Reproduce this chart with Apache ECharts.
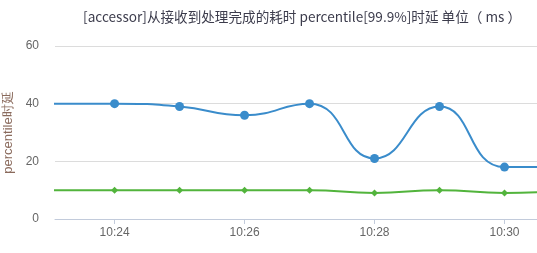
<!DOCTYPE html>
<html><head><meta charset="utf-8">
<script src="https://cdn.jsdelivr.net/npm/echarts@6/dist/echarts.min.js"></script>
<style>html,body{margin:0;padding:0;background:#fff}#c{width:537px;height:253px}</style>
</head><body><div id="c"></div>
<script>
var times = ['10:23','10:24','10:25','10:26','10:27','10:28','10:29','10:30','10:31'];
var blueValues = [40, 40, 39, 36, 40, 21, 39, 18, 18];
var greenValues = [10, 10, 10, 10, 10, 9, 10, 9, 10];
var titleText = '[accessor]从接收到处理完成的耗时 percentile[99.9%]时延 单位（ ms ）';
var yName = 'percentile时延';

function ts(hm, sec) {
  var p = hm.split(':');
  return new Date(2024, 0, 1, +p[0], +p[1], sec || 0).getTime();
}
var blueData = times.map(function (t, i) { return [ts(t), blueValues[i]]; });
var greenData = times.map(function (t, i) { return [ts(t), greenValues[i]]; });

var chart = echarts.init(document.getElementById('c'));
chart.setOption({
  animation: false,
  title: {
    text: titleText, right: 11, top: 5,
    textStyle: { fontSize: 13.6, fontWeight: 'normal', color: '#3c3c4c', fontFamily: 'Noto Sans CJK SC' }
  },
  grid: { left: 55, right: 0, top: 46, bottom: 34, containLabel: false, outerBoundsMode: 'none' },
  xAxis: {
    type: 'time',
    min: ts('10:23', 5), max: ts('10:30', 30),
    minInterval: 180000, maxInterval: 180000,
    splitLine: { show: false },
    axisLine: { lineStyle: { color: '#c2cbdb' } },
    axisTick: { show: true, length: 5, lineStyle: { color: '#c2cbdb' } },
    axisLabel: { color: '#666', fontSize: 12, formatter: '{HH}:{mm}', showMinLabel: false, showMaxLabel: false }
  },
  yAxis: {
    type: 'value', min: 0, max: 60, interval: 20,
    name: yName, nameLocation: 'middle', nameGap: 36,
    nameTextStyle: { color: '#8a6a5c', fontSize: 13 },
    axisLine: { show: false }, axisTick: { show: false },
    axisLabel: { color: '#666', fontSize: 12, margin: 16 },
    splitLine: { lineStyle: { color: '#dcdcdc' } }
  },
  series: [
    { type: 'line', data: blueData, smooth: true, symbol: 'circle', symbolSize: 9,
      color: '#3a8ccb', lineStyle: { width: 2 } },
    { type: 'line', data: greenData, smooth: true, symbol: 'diamond', symbolSize: 7,
      color: '#52b43c', lineStyle: { width: 2 } }
  ]
});
</script></body></html>
